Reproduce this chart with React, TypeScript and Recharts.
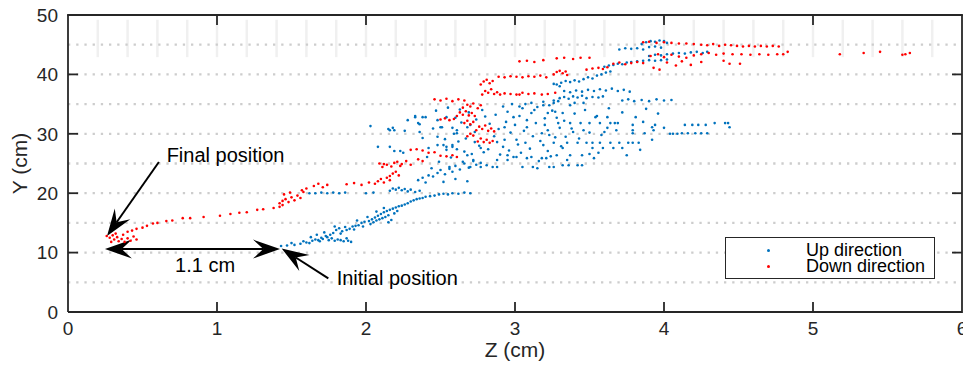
import React, { useEffect, useState } from "react"
import {
  Legend,
  ReferenceDot,
  ReferenceLine,
  Scatter,
  ScatterChart,
  XAxis,
  YAxis,
} from "recharts"

// Z / Y positions (cm)
const upDirection: [number, number][] = [
  [1.43, 11.1], [1.47, 11.2], [1.52, 11.3], [1.56, 11.5], [1.6, 11.7], [1.62, 11.6], [1.64, 12.0], [1.66, 12.2],
  [1.68, 12.1], [1.7, 12.5], [1.71, 12.3], [1.73, 12.8], [1.74, 12.6], [1.76, 13.0], [1.77, 12.4], [1.78, 13.3],
  [1.79, 12.0], [1.8, 13.8], [1.81, 12.2], [1.82, 14.1], [1.83, 12.1], [1.84, 13.6], [1.85, 11.9], [1.86, 14.3],
  [1.87, 13.8], [1.88, 12.0], [1.89, 14.0], [1.9, 11.8], [1.91, 14.4], [1.93, 14.5], [1.95, 14.6], [1.97, 15.0],
  [1.99, 15.2], [2.02, 15.3], [2.04, 15.6], [2.05, 15.1], [2.06, 15.9], [2.07, 15.4], [2.08, 16.2], [2.09, 15.6],
  [2.1, 16.5], [2.11, 15.8], [2.12, 16.8], [2.13, 16.0], [2.14, 17.0], [2.15, 16.3], [2.16, 17.2], [2.17, 15.5],
  [2.18, 17.4], [2.19, 16.6], [2.2, 17.6], [2.21, 17.0], [2.22, 17.8], [2.24, 17.9], [2.26, 18.1], [2.28, 18.3],
  [2.3, 18.6], [2.32, 18.8], [2.34, 19.0], [2.36, 19.1], [2.38, 19.2], [2.4, 19.4], [2.43, 19.5], [2.46, 19.6],
  [2.49, 19.8], [2.52, 19.9], [2.55, 19.8], [2.58, 20.0], [2.62, 19.9], [2.66, 20.1], [2.7, 20.0],
  [1.5, 11.6], [1.58, 11.9], [1.63, 12.6], [1.67, 13.0], [1.69, 11.9], [1.72, 13.4], [1.75, 12.1], [1.79, 14.4],
  [1.83, 13.2], [1.87, 12.4], [1.92, 13.9], [1.94, 15.4], [1.98, 14.4], [2.01, 16.0], [2.03, 14.8], [2.07, 16.9],
  [2.12, 17.5], [2.15, 15.1],
  [2.16, 20.4], [2.18, 20.8], [2.2, 20.6], [2.22, 20.9], [2.24, 20.5], [2.26, 20.7], [2.28, 20.3], [2.3, 20.6],
  [2.33, 20.2], [2.36, 20.4], [1.62, 20.0], [1.66, 20.0], [1.7, 20.1], [1.74, 20.0], [1.78, 20.1], [1.82, 20.0],
  [1.86, 20.1], [2.0, 20.0], [2.05, 20.1],
  [2.38, 22.6], [2.42, 23.0], [2.45, 22.8], [2.48, 23.4], [2.5, 23.9], [2.53, 23.2], [2.56, 24.1], [2.58, 23.6],
  [2.6, 24.6], [2.63, 24.0], [2.66, 25.0], [2.69, 24.3], [2.72, 25.4], [2.74, 24.8], [2.44, 24.2], [2.4, 21.8],
  [2.35, 22.2], [2.52, 21.9], [2.6, 22.4], [2.68, 22.0],
  [2.03, 31.3], [2.16, 30.6], [2.19, 30.6], [2.26, 30.5], [2.28, 32.3], [2.33, 32.8], [2.35, 31.8], [2.38, 32.8],
  [2.4, 32.8], [2.48, 32.3], [2.51, 31.1], [2.54, 32.8], [2.6, 32.7], [2.61, 30.6], [2.68, 31.1], [2.7, 31.5],
  [2.48, 29.5], [2.36, 30.3], [2.38, 29.3], [2.52, 28.1], [2.58, 27.8], [2.54, 27.3], [2.61, 27.4], [2.08, 27.8],
  [2.16, 27.8], [2.23, 27.1], [2.41, 26.1], [2.56, 24.4], [2.65, 25.3], [2.7, 24.4], [2.77, 24.4], [2.81, 24.7],
  [2.85, 24.4], [2.88, 25.6], [2.95, 25.6], [2.95, 26.4], [3.01, 26.1], [3.08, 25.9], [3.05, 24.4], [3.12, 24.4],
  [2.15, 30.8], [2.18, 31.0], [2.33, 33.0], [2.36, 31.6], [2.5, 31.1], [2.58, 31.0], [2.61, 30.1], [2.19, 27.1],
  [2.25, 26.8], [2.48, 28.1], [2.54, 27.8], [2.58, 28.1], [2.73, 28.6], [2.77, 27.6], [2.68, 26.4], [2.72, 25.6],
  [2.77, 25.1], [2.88, 24.4], [2.93, 31.1], [2.95, 33.7], [2.99, 32.8], [3.05, 34.3], [3.11, 33.5], [3.08, 31.1],
  [3.01, 29.0], [3.07, 28.5], [3.11, 26.1], [3.15, 24.2], [2.99, 26.1], [2.92, 27.8], [2.88, 28.6],
  [2.42, 27.6], [2.45, 30.9], [2.47, 33.9], [2.49, 25.3], [2.53, 29.1], [2.55, 34.4], [2.57, 26.0], [2.59, 30.0],
  [2.62, 28.7], [2.63, 34.1], [2.64, 31.9], [2.66, 27.0], [2.67, 29.2], [2.69, 33.6], [2.71, 26.6], [2.73, 30.3],
  [2.74, 32.4], [2.76, 28.0], [2.78, 34.0], [2.79, 26.9], [2.8, 32.9], [2.82, 27.4], [2.83, 31.7], [2.86, 29.6],
  [2.87, 33.2], [2.89, 30.8], [2.9, 26.5], [2.92, 34.6], [2.93, 29.0], [2.94, 32.0], [2.96, 27.2], [2.97, 30.2],
  [2.98, 35.0], [3.0, 31.5], [3.02, 28.2], [3.03, 33.0], [3.04, 26.8], [3.06, 30.5], [3.08, 32.3], [3.1, 27.5],
  [3.12, 29.6], [3.13, 34.0], [3.14, 31.8], [3.16, 25.4], [3.17, 28.8], [3.2, 32.6], [3.22, 30.6], [3.24, 26.2],
  [3.25, 33.9], [3.27, 29.4], [3.29, 35.5], [3.31, 27.9], [3.33, 32.2], [3.35, 25.6], [3.38, 30.9], [3.4, 33.4],
  [3.43, 29.2], [3.47, 34.0], [3.5, 30.2], [3.53, 25.9], [3.55, 33.0], [3.58, 29.8], [3.63, 34.3], [3.68, 30.6],
  [3.72, 33.6], [3.75, 26.4], [3.81, 32.8], [3.84, 27.3], [3.88, 34.2], [3.92, 29.0], [3.96, 33.4], [4.0, 31.0],
  [3.19, 34.8], [3.26, 35.2], [3.27, 33.7], [3.32, 33.5], [3.37, 34.8], [3.4, 35.2], [3.46, 35.2], [3.22, 33.5],
  [3.28, 32.7], [3.2, 31.5], [3.29, 31.8], [3.3, 31.0], [3.37, 31.8], [3.44, 31.8], [3.5, 31.8], [3.54, 32.8],
  [3.57, 31.8], [3.62, 32.8], [3.64, 31.8], [3.67, 31.8], [3.69, 31.8], [3.62, 31.0], [3.6, 30.3], [3.46, 30.6],
  [3.39, 30.3], [3.34, 29.5], [3.23, 29.8], [3.18, 30.1], [3.26, 28.5], [3.35, 28.5], [3.42, 28.5], [3.48, 28.5],
  [3.52, 28.5], [3.57, 28.5], [3.64, 28.5], [3.7, 28.5], [3.76, 28.5], [3.79, 28.5], [3.83, 28.5], [3.19, 28.1],
  [3.32, 27.6], [3.52, 27.6], [3.59, 27.6], [3.66, 27.6], [3.72, 27.6], [3.22, 27.1], [3.28, 26.4], [3.37, 26.4],
  [3.45, 26.4], [3.5, 26.6], [3.56, 26.8], [3.18, 25.9], [3.21, 25.9], [3.32, 24.7], [3.36, 24.7], [3.42, 24.7],
  [3.45, 24.7], [3.23, 24.4], [3.26, 24.4],
  [3.79, 31.5], [3.79, 30.6], [3.79, 30.1], [3.86, 32.0], [3.87, 30.1], [3.92, 31.1], [3.93, 30.6], [3.94, 31.5],
  [4.04, 30.0], [4.06, 30.0], [4.09, 30.0], [4.12, 30.1], [4.14, 31.5], [4.16, 30.1], [4.19, 31.5], [4.21, 30.1],
  [4.23, 31.5], [4.25, 30.1], [4.28, 31.5], [4.29, 30.1], [4.34, 31.8], [4.41, 31.8], [4.43, 31.8], [4.44, 31.1],
  [3.03, 34.6], [3.07, 35.0], [3.11, 35.2], [3.15, 34.5], [3.19, 35.4], [3.23, 34.8], [3.26, 35.6], [3.3, 36.0],
  [3.33, 36.2], [3.36, 35.9], [3.39, 36.3], [3.42, 36.1], [3.45, 36.4], [3.48, 36.0], [3.52, 36.2], [3.56, 36.1],
  [3.59, 36.3], [3.33, 37.2], [3.37, 37.0], [3.41, 37.3], [3.45, 37.1], [3.49, 37.4], [3.53, 37.2], [3.57, 37.5],
  [3.61, 37.3], [3.65, 37.6], [3.69, 37.2], [3.73, 37.4], [3.77, 37.1], [3.72, 35.6], [3.76, 35.8], [3.8, 35.5],
  [3.85, 35.7], [3.9, 35.5], [3.95, 35.8], [4.0, 35.6], [4.05, 35.7],
  [3.28, 38.3], [3.31, 38.6], [3.34, 38.9], [3.37, 38.7], [3.4, 39.0], [3.43, 38.8], [3.46, 39.2], [3.49, 39.5],
  [3.52, 39.3], [3.55, 39.8], [3.58, 40.0], [3.61, 40.3], [3.64, 40.5], [3.3, 38.0], [3.26, 38.4],
  [3.6, 41.3], [3.63, 41.5], [3.66, 41.6], [3.69, 41.8], [3.72, 41.7], [3.75, 42.0], [3.78, 42.1], [3.82, 42.2],
  [3.86, 42.3], [3.9, 42.4], [3.94, 42.3], [3.98, 42.4], [4.02, 42.5],
  [3.9, 43.1], [3.94, 43.3], [3.98, 43.2], [4.02, 43.4], [4.06, 43.5], [4.1, 43.6], [4.14, 43.5], [4.18, 43.7],
  [4.22, 43.8], [4.26, 43.6], [4.29, 43.8], [3.7, 44.2], [3.74, 44.4], [3.78, 44.3], [3.82, 44.4], [3.86, 44.2],
  [3.9, 44.6], [3.94, 44.7], [3.98, 44.5], [3.85, 45.1], [3.88, 45.4], [3.91, 45.6], [3.94, 45.5], [3.97, 45.7],
  [4.0, 45.6], [4.02, 45.3],
]

const downDirection: [number, number][] = [
  [4.25, 45.0], [4.29, 44.9], [4.33, 45.1], [4.37, 44.8], [4.41, 45.0], [4.45, 44.9], [4.49, 44.8], [4.53, 44.7],
  [4.57, 44.8], [4.61, 44.7], [4.65, 44.8], [4.69, 44.7], [4.73, 44.8], [4.77, 44.7], [4.05, 45.3], [4.1, 45.2],
  [4.15, 45.2], [4.2, 45.1], [3.86, 45.4], [3.9, 45.5], [3.95, 45.3], [4.0, 45.4],
  [4.25, 43.4], [4.3, 43.6], [4.35, 43.3], [4.4, 43.5], [4.46, 43.4], [4.52, 43.4], [4.58, 43.3], [4.64, 43.4],
  [4.7, 43.3], [4.76, 43.4], [4.8, 43.4], [4.83, 43.8], [5.18, 43.4], [5.34, 43.6], [5.45, 43.8], [5.6, 43.3],
  [5.62, 43.4], [5.65, 43.6], [4.25, 42.1], [4.4, 42.3], [4.44, 41.8], [4.51, 41.8],
  [3.91, 43.1], [3.96, 43.4], [4.0, 42.9], [4.05, 43.3], [4.1, 43.0], [4.15, 42.8], [4.2, 43.2], [4.12, 42.2],
  [4.18, 41.6], [4.08, 41.5], [4.02, 42.0], [3.66, 41.8], [3.7, 42.0], [3.74, 41.7], [3.78, 41.9], [3.82, 42.1],
  [3.86, 41.9], [3.93, 41.1], [3.97, 40.8], [3.48, 40.8], [3.52, 41.0], [3.56, 41.1], [3.59, 40.9], [3.62, 41.2],
  [3.03, 42.2], [3.08, 42.3], [3.13, 42.1], [3.19, 42.4], [3.28, 42.7], [3.33, 42.8], [3.39, 42.6], [3.44, 42.8],
  [3.5, 42.8], [3.26, 40.0], [3.28, 40.4], [3.3, 40.6], [3.32, 40.2], [3.34, 40.5], [3.35, 39.9],
  [2.89, 39.6], [2.93, 39.5], [2.97, 39.7], [3.01, 39.6], [3.05, 39.5], [3.09, 39.7], [3.13, 39.6], [3.17, 39.8],
  [3.21, 39.5], [2.77, 38.3], [2.79, 38.8], [2.81, 39.1], [2.83, 38.5], [2.85, 38.9],
  [2.78, 36.6], [2.8, 37.2], [2.82, 36.9], [2.84, 37.5], [2.86, 36.7], [2.88, 37.0], [2.9, 36.6], [2.93, 36.8],
  [2.97, 36.7], [3.01, 36.6], [3.05, 36.9], [3.09, 36.7], [3.03, 36.6], [3.13, 36.8], [3.18, 36.6], [3.22, 36.7],
  [3.27, 36.9], [2.46, 35.8], [2.5, 35.6], [2.54, 35.9], [2.58, 35.5], [2.62, 35.8], [2.66, 35.6],
  [2.65, 34.4], [2.68, 34.9], [2.7, 34.6], [2.72, 35.1], [2.75, 34.3], [2.77, 34.8],
  [2.61, 33.0], [2.63, 33.6], [2.65, 33.2], [2.67, 33.8], [2.69, 33.1], [2.71, 33.5], [2.73, 33.0],
  [2.5, 32.4], [2.53, 32.6], [2.56, 32.3], [2.59, 32.5], [2.66, 31.8], [2.68, 32.2], [2.7, 31.6], [2.72, 32.0],
  [2.74, 30.6], [2.76, 31.2], [2.78, 30.8], [2.8, 31.4], [2.82, 30.5], [2.84, 30.9], [2.86, 30.4],
  [2.68, 29.6], [2.7, 30.0], [2.72, 29.7], [2.75, 28.7], [2.77, 29.2], [2.79, 28.6], [2.81, 29.0], [2.83, 28.5],
  [2.85, 28.8], [2.3, 27.3], [2.34, 27.4], [2.38, 27.2], [2.42, 26.8], [2.46, 26.9], [2.5, 26.3], [2.54, 26.2],
  [2.58, 26.4], [2.61, 26.1], [2.35, 25.7], [2.38, 25.4], [2.21, 25.3], [2.24, 24.9], [2.27, 25.4], [2.3, 24.8],
  [2.09, 25.0], [2.12, 24.9], [2.11, 24.4], [2.14, 24.8], [2.17, 24.5], [2.19, 25.1], [2.23, 24.6],
  [2.16, 22.9], [2.18, 23.3], [2.2, 23.6], [2.22, 23.0], [2.08, 22.0], [2.1, 22.4], [2.12, 21.8], [2.14, 22.6],
  [2.16, 22.2], [1.87, 21.5], [1.92, 21.7], [1.97, 21.4], [2.02, 21.8], [2.06, 21.6], [1.65, 21.2], [1.68, 21.6],
  [1.71, 21.0], [1.74, 21.4],
  [1.42, 18.3], [1.44, 18.7], [1.46, 19.0], [1.48, 18.5], [1.5, 19.3], [1.52, 18.8], [1.54, 19.6], [1.56, 19.2],
  [1.58, 20.2], [1.6, 20.8], [1.57, 20.5], [1.45, 19.8], [1.49, 20.1],
  [1.44, 18.0], [1.42, 17.7], [1.38, 17.5], [1.31, 17.3], [1.27, 17.2], [1.2, 16.8], [1.15, 16.7], [1.09, 16.5],
  [1.02, 16.2], [0.91, 16.0], [0.82, 15.8], [0.77, 15.8], [0.7, 15.4], [0.66, 15.3], [0.6, 15.0], [0.57, 14.9],
  [0.53, 14.5], [0.5, 14.2], [0.46, 14.0], [0.43, 13.7], [0.4, 13.5], [0.37, 13.0],
  [0.26, 12.8], [0.28, 12.5], [0.3, 12.9], [0.31, 12.2], [0.33, 12.6], [0.34, 11.9], [0.36, 12.3], [0.38, 11.8],
  [0.4, 12.4], [0.42, 12.0], [0.44, 12.7], [0.46, 12.2], [0.29, 11.8], [0.32, 13.2],
]

const zTicks = [0, 1, 2, 3, 4, 5, 6]
const yTicks = [0, 10, 20, 30, 40, 50]
const zInner = [1, 2, 3, 4, 5]
const yInner = [10, 20, 30, 40]
const gridLevels = [5, 10, 15, 20, 25, 30, 35, 40, 45]
const stripeZ = [
  0.2, 0.4, 0.6, 0.8, 1.0, 1.2, 1.4, 1.6, 1.8, 2.0, 2.2, 2.4, 2.6, 2.8, 3.0,
  3.2, 3.4, 3.6, 3.8, 4.0, 4.2, 4.4, 4.6, 4.8, 5.0, 5.2, 5.4, 5.6, 5.8,
]

// annotations (data coords)
const arrows = [
  { from: [0.61, 25.25], to: [0.262, 12.8], both: false },
  { from: [0.248, 10.6], to: [1.423, 10.6], both: true },
  { from: [1.747, 5.67], to: [1.434, 10.7], both: false },
]
const notes = [
  { z: 0.662, y: 25.3, text: "Final position", anchor: "start" },
  { z: 0.92, y: 6.8, text: "1.1 cm", anchor: "middle" },
  { z: 1.803, y: 4.55, text: "Initial position", anchor: "start" },
]

const FONT = '"Liberation Sans", Arial, Helvetica, sans-serif'
const AXIS = "#262626"
const BLUE = "#0072BD"
const RED = "#FF0000"
const TICK_LEN = 10
const W = 963
const H = 354

const series = [
  { name: "Up direction", color: BLUE, data: upDirection.map(([z, y]) => ({ z, y })) },
  { name: "Down direction", color: RED, data: downDirection.map(([z, y]) => ({ z, y })) },
]

// pixel positions of the first arrow's ends, as scaled by recharts;
// used to place the box/ticks overlay
type Seg = { x1: number; y1: number; x2: number; y2: number }
const scaleProbe: { seg: Seg | null } = { seg: null }

function headPoints(tx: number, ty: number, ux: number, uy: number) {
  const L = 27
  const HW = 9.5
  const nx = -uy
  const ny = ux
  const bx = tx + ux * L
  const by = ty + uy * L
  const mx = tx + ux * L * 0.62
  const my = ty + uy * L * 0.62
  return {
    pts: `${tx},${ty} ${bx + nx * HW},${by + ny * HW} ${mx},${my} ${bx - nx * HW},${by - ny * HW}`,
    mx,
    my,
  }
}

const arrowShape = (i: number) => (props: any) => {
  const a = arrows[i]
  const { x1, y1, x2, y2 } = props
  if (i === 0 && [x1, y1, x2, y2].every((v) => Number.isFinite(v))) {
    scaleProbe.seg = { x1, y1, x2, y2 }
  }
  const len = Math.hypot(x2 - x1, y2 - y1) || 1
  const ux = (x1 - x2) / len
  const uy = (y1 - y2) / len
  const end = headPoints(x2, y2, ux, uy)
  const start = a.both ? headPoints(x1, y1, -ux, -uy) : null
  return (
    <g>
      <line
        x1={start ? start.mx : x1}
        y1={start ? start.my : y1}
        x2={end.mx}
        y2={end.my}
        stroke="#000"
        strokeWidth={2}
      />
      <polygon points={end.pts} fill="#000" />
      {start && <polygon points={start.pts} fill="#000" />}
    </g>
  )
}

// box (top/right edges) and inward ticks on all four sides
function FrameOverlay() {
  const [seg, setSeg] = useState<Seg | null>(null)
  useEffect(() => {
    let n = 0
    const id = setInterval(() => {
      const s = scaleProbe.seg
      if (s) {
        setSeg((old) =>
          old && old.x1 === s.x1 && old.y1 === s.y1 && old.x2 === s.x2 && old.y2 === s.y2 ? old : { ...s }
        )
      }
      if (++n > 60) clearInterval(id)
    }, 30)
    return () => clearInterval(id)
  }, [])
  if (!seg) return null
  const a = arrows[0]
  const kx = (seg.x2 - seg.x1) / (a.to[0] - a.from[0])
  const ky = (seg.y2 - seg.y1) / (a.to[1] - a.from[1])
  const px = (z: number) => seg.x1 + (z - a.from[0]) * kx
  const py = (y: number) => seg.y1 + (y - a.from[1]) * ky
  const L = px(zTicks[0])
  const R = px(zTicks[zTicks.length - 1])
  const B = py(yTicks[0])
  const T = py(yTicks[yTicks.length - 1])
  const s = { stroke: AXIS, strokeWidth: 1.8 }
  return (
    <svg
      width={W}
      height={H}
      style={{ position: "absolute", left: 0, top: 0, pointerEvents: "none", overflow: "visible" }}
    >
      <line x1={L - 0.9} y1={T} x2={R + 0.9} y2={T} {...s} />
      <line x1={R} y1={T} x2={R} y2={B + 0.9} {...s} />
      {zInner.map((z) => (
        <g key={`fz${z}`}>
          <line x1={px(z)} y1={B} x2={px(z)} y2={B - TICK_LEN} {...s} />
          <line x1={px(z)} y1={T} x2={px(z)} y2={T + TICK_LEN} {...s} />
        </g>
      ))}
      {yInner.map((y) => (
        <g key={`fy${y}`}>
          <line x1={L} y1={py(y)} x2={L + TICK_LEN} y2={py(y)} {...s} />
          <line x1={R} y1={py(y)} x2={R - TICK_LEN} y2={py(y)} {...s} />
        </g>
      ))}
    </svg>
  )
}

const dot = (color: string) => (p: any) => <circle cx={p.cx} cy={p.cy} r={1.3} fill={color} />

const LegendBox = () => (
  <div
    style={{
      position: "relative",
      width: 210,
      height: 42,
      boxSizing: "border-box",
      border: `1.5px solid ${AXIS}`,
      background: "#fff",
      fontFamily: FONT,
      fontSize: 18,
      color: "#000",
    }}
  >
    {series.map((s, i) => (
      <div
        key={s.name}
        style={{ position: "absolute", left: 0, top: 4 + i * 16.3, height: 16, lineHeight: "16px", width: "100%" }}
      >
        <span
          style={{
            position: "absolute",
            left: 41,
            top: 7,
            width: 3,
            height: 3,
            borderRadius: "50%",
            background: s.color,
          }}
        />
        <span style={{ position: "absolute", left: 80, top: 0, whiteSpace: "nowrap" }}>{s.name}</span>
      </div>
    ))}
  </div>
)

export default function App() {
  return (
    <div style={{ position: "relative", width: W, height: H }}>
      <ScatterChart width={W} height={H} margin={{ top: 7, right: 9, bottom: 0, left: 0 }}>
        {stripeZ.map((z) => (
          <ReferenceLine
            key={`s${z}`}
            segment={[{ x: z, y: 42.9 }, { x: z, y: 49.2 }]}
            stroke="#f0f0f0"
            strokeWidth={2.5}
            ifOverflow="visible"
          />
        ))}
        {gridLevels.map((g) => (
          <ReferenceLine
            key={`g${g}`}
            y={g}
            stroke="#cdcdcd"
            strokeWidth={2.3}
            strokeDasharray="2.3 5.9"
          />
        ))}
        <XAxis
          type="number"
          dataKey="z"
          domain={[0, 6]}
          ticks={zTicks}
          interval={0}
          height={50}
          allowDataOverflow
          tickSize={0}
          tickMargin={10}
          tickLine={false}
          axisLine={{ stroke: AXIS, strokeWidth: 1.8 }}
          tick={{ fill: AXIS, fontSize: 19, fontFamily: FONT }}
          label={{
            content: ({ viewBox }: any) => (
              <text
                x={viewBox.x + viewBox.width / 2}
                y={viewBox.y + 45}
                textAnchor="middle"
                fill={AXIS}
                fontSize={21}
                fontFamily={FONT}
              >
                Z (cm)
              </text>
            ),
          }}
        />
        <YAxis
          type="number"
          dataKey="y"
          domain={[0, 50]}
          ticks={yTicks}
          interval={0}
          width={60}
          allowDataOverflow
          tickSize={0}
          tickMargin={10}
          tickLine={false}
          axisLine={{ stroke: AXIS, strokeWidth: 1.8 }}
          tick={{ fill: AXIS, fontSize: 19, fontFamily: FONT }}
          label={{
            content: ({ viewBox }: any) => {
              const cx = viewBox.x + 19
              const cy = viewBox.y + viewBox.height / 2
              return (
                <text
                  x={cx}
                  y={cy}
                  transform={`rotate(-90 ${cx} ${cy})`}
                  textAnchor="middle"
                  fill={AXIS}
                  fontSize={21}
                  fontFamily={FONT}
                >
                  Y (cm)
                </text>
              )
            },
          }}
        />
        {series.map((s) => (
          <Scatter
            key={s.name}
            name={s.name}
            data={s.data}
            fill={s.color}
            shape={dot(s.color)}
            isAnimationActive={false}
          />
        ))}
        {arrows.map((a, i) => (
          <ReferenceLine
            key={`a${i}`}
            segment={[{ x: a.from[0], y: a.from[1] }, { x: a.to[0], y: a.to[1] }]}
            ifOverflow="visible"
            shape={arrowShape(i)}
          />
        ))}
        {notes.map((n) => (
          <ReferenceDot
            key={n.text}
            x={n.z}
            y={n.y}
            r={0}
            ifOverflow="visible"
            shape={(p: any) => (
              <text x={p.cx} y={p.cy} textAnchor={n.anchor as any} fill="#000" fontSize={20} fontFamily={FONT}>
                {n.text}
              </text>
            )}
          />
        ))}
        <Legend
          layout="vertical"
          align="center"
          verticalAlign="middle"
          content={() => <LegendBox />}
          wrapperStyle={{ left: 717, top: 229, width: 210, height: 42 }}
        />
      </ScatterChart>
      <FrameOverlay />
    </div>
  )
}
